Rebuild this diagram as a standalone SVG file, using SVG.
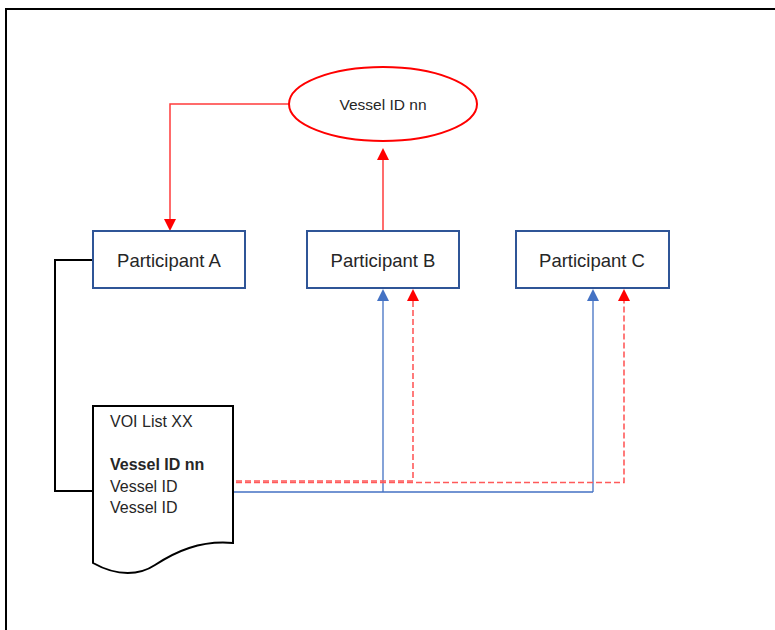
<svg xmlns="http://www.w3.org/2000/svg" width="775" height="630" viewBox="0 0 775 630">
<style>
.box{fill:#fff;stroke:#2F5597;stroke-width:2}
.lbl{font-family:"Liberation Sans",Arial,sans-serif;fill:#262626;text-anchor:middle}
.doc{font-family:"Liberation Sans",Arial,sans-serif;fill:#262626;font-size:16px}
.red{fill:none;stroke:#FF3B3B;stroke-width:1.5}
.reddash{fill:none;stroke:#FF5A5A;stroke-width:1.6;stroke-dasharray:6,3}
.blue{fill:none;stroke:#4472C4;stroke-width:1.3}
.blk{fill:none;stroke:#000;stroke-width:2}
</style>
<rect width="775" height="630" fill="#fff"/>
<path d="M775,9 H6 V630" fill="none" stroke="#000" stroke-width="2"/>

<g id="connectors">
<path class="red" d="M289,104 H170 V219"/>
<path d="M164,219 L176,219 L170,231 Z" fill="#FF0000"/>
<path class="red" d="M383,231 V150"/>
<path d="M383,148 L389,160 L377,160 Z" fill="#FF0000"/>
<path class="blk" d="M93,260 H55 V491 H93"/>
<path class="blue" d="M233,492 H593 M383,492 V300 M593,492 V300"/>
<path d="M383,289 L389,301 L377,301 Z" fill="#4472C4"/>
<path d="M593,289 L599,301 L587,301 Z" fill="#4472C4"/>
<path class="reddash" d="M236,481 H413 V300"/>
<path class="reddash" d="M236,482.5 H624 V300"/>
<path d="M413,289 L419,301 L407,301 Z" fill="#FF0000"/>
<path d="M624,289 L630,301 L618,301 Z" fill="#FF0000"/>
</g>

<g id="vessel">
<ellipse cx="383" cy="104" rx="94" ry="37" fill="#fff" stroke="#FF0000" stroke-width="2"/>
<text class="lbl" x="383" y="110" font-size="15.5">Vessel ID nn</text>
</g>
<g id="participantA">
<rect class="box" x="93" y="231" width="152" height="57"/>
<text class="lbl" x="169" y="267" font-size="18.5">Participant A</text>
</g>
<g id="participantB">
<rect class="box" x="307" y="231" width="152" height="57"/>
<text class="lbl" x="383" y="267" font-size="18.5">Participant B</text>
</g>
<g id="participantC">
<rect class="box" x="516" y="231" width="153" height="57"/>
<text class="lbl" x="592" y="267" font-size="18.5">Participant C</text>
</g>
<g id="voiList">
<path d="M93,406 H233 V543 C200,540 175,552 155,565 C140,575 118,577 93,563 Z" fill="#fff" stroke="#000" stroke-width="2"/>
<text class="doc" x="110" y="427">VOI List XX</text>
<text class="doc" x="110" y="470" font-weight="bold">Vessel ID nn</text>
<text class="doc" x="110" y="492">Vessel ID</text>
<text class="doc" x="110" y="513">Vessel ID</text>
</g>
</svg>
